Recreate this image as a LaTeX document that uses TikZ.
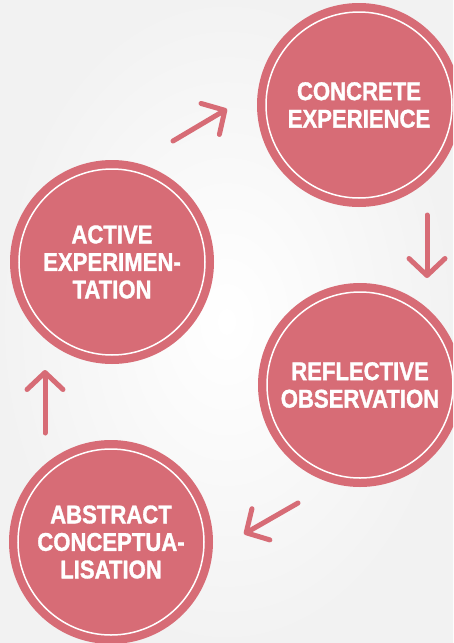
\documentclass[tikz,border=0pt]{standalone}
\usepackage{fontspec}
\usepackage{tikz}
\usepackage{xcolor}
\usetikzlibrary{arrows.meta, positioning, calc}

\newfontfamily\cyclefont[FakeStretch=0.86, FakeBold=1.2]{Liberation Sans Bold}
\definecolor{cyclered}{HTML}{D76C76}

\tikzset{
  stage/.style={circle, fill=cyclered, minimum size=204pt, inner sep=0pt,
    text=white, align=center, font=\cyclefont\fontsize{25.7}{27.5}\selectfont},
  ring/.style={draw=white, line width=1.5pt},
  cyclearrow/.style={draw=cyclered, line width=5pt, line cap=round,
    -{Straight Barb[length=17pt, width=36pt, round]}}
}

\begin{document}
\begin{tikzpicture}[x=1pt, y=-1pt]
\useasboundingbox (0,0) rectangle (453,643);
\clip (0,0) rectangle (453,643);

% background
\shade[inner color=white, outer color=gray!10] (0,0) rectangle (453,643);

% Stages
\node[stage] (concrete) at (359,105) {CONCRETE\\EXPERIENCE};
\node[stage] (reflective) at (360,385) {REFLECTIVE\\OBSERVATION};
\node[stage] (abstract) at (111,542) {ABSTRACT\\CONCEPTUA-\\LISATION};
\node[stage] (active) at (112,262) {ACTIVE\\EXPERIMEN-\\TATION};

\foreach \n in {concrete, reflective, abstract, active}
  \draw[ring] (\n.center) circle (93);

% arrow ends
\coordinate (a1) at (173,141);
\coordinate (b1) at (227,109);
\coordinate (a2) at (427,215);
\coordinate (b2) at (427,278);
\coordinate (a3) at (298,503);
\coordinate (b3) at (244,534);
\coordinate (a4) at (45,433);
\coordinate (b4) at (45,370);

% Arrows
\draw[cyclearrow] (a1) -- (b1);
\draw[cyclearrow] (a2) -- (b2);
\draw[cyclearrow] (a3) -- (b3);
\draw[cyclearrow] (a4) -- (b4);
\end{tikzpicture}
\end{document}
